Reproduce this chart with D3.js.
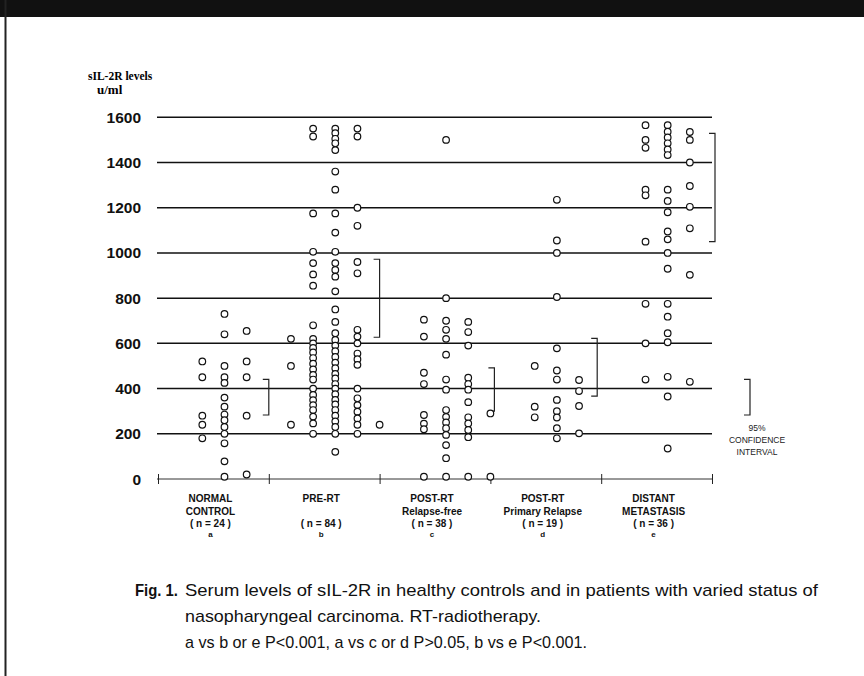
<!DOCTYPE html>
<html>
<head>
<meta charset="utf-8">
<script src="https://cdn.jsdelivr.net/npm/d3@7"></script>
<style>
body { margin: 0; background: #fff; }
svg { display: block; }
</style>
</head>
<body>
<svg id="chart"></svg>
<script>
// group labels
var groupKeys = ["a", "b", "c", "d", "e"];
var groupLine1 = ["NORMAL", "PRE-RT", "POST-RT", "POST-RT", "DISTANT"];
var groupLine2 = ["CONTROL", "", "Relapse-free", "Primary Relapse", "METASTASIS"];
var groupN = [24, 84, 38, 19, 36];
var yTicks = [0, 200, 400, 600, 800, 1000, 1200, 1400, 1600];

// sIL-2R values (u/ml), one list per dot column (column 1..5 inside a group)
var normalCols = [
    [],
    [520, 450, 280, 240, 180],
    [730, 640, 500, 450, 425, 360, 320, 285, 260, 230, 200, 158, 78, 10],
    [655, 520, 450, 280, 20],
    []
];
var preRtCols = [
    [620, 500, 240],
    [1550, 1515, 1175, 1005, 955, 905, 855, 680, 620, 600, 580, 560, 535, 510, 485, 460, 440, 400, 372, 349, 327, 305, 276, 246, 200],
    [1550, 1530, 1505, 1485, 1455, 1360, 1280, 1175, 1090, 1005, 955, 925, 895, 830, 750, 695, 645, 615, 590, 565, 540, 515, 490, 465, 445, 420, 400, 375, 350, 330, 305, 280, 255, 230, 200, 120],
    [1550, 1515, 1200, 1120, 960, 910, 660, 630, 600, 555, 530, 505, 400, 357, 327, 298, 268, 240, 200],
    [240]
];
var relapseFreeCols = [
    [],
    [705, 630, 470, 420, 283, 245, 220, 10],
    [1500, 800, 700, 660, 620, 550, 440, 395, 305, 275, 250, 225, 195, 150, 92, 10],
    [695, 650, 590, 448, 420, 395, 340, 273, 246, 217, 185, 10],
    [290, 10]
];
var primaryRelapseCols = [
    [],
    [500, 320, 273],
    [1235, 1055, 1000, 805, 578, 480, 440, 350, 300, 272, 225, 180],
    [438, 389, 323, 202],
    []
];
var metastasisCols = [
    [],
    [1565, 1500, 1465, 1280, 1255, 1050, 775, 600, 440],
    [1565, 1536, 1511, 1485, 1458, 1433, 1280, 1230, 1180, 1095, 1060, 1000, 930, 775, 718, 645, 605, 452, 365, 135],
    [1535, 1500, 1400, 1296, 1204, 1109, 903, 430],
    []
];

// 95% confidence intervals per group
var ciLow = [283, 627, 300, 367, 1050];
var ciHigh = [441, 972, 492, 622, 1529];
var legendCi = [283, 441];

var captionLines = [
    "Serum levels of sIL-2R in healthy controls and in patients with varied status of",
    "nasopharyngeal carcinoma. RT-radiotherapy.",
    "a vs b or e P<0.001, a vs c or d P>0.05, b vs e P<0.001."
];

var allCols = [normalCols, preRtCols, relapseFreeCols, primaryRelapseCols, metastasisCols];

var screen = { width: 864, height: 676 };

var svg = d3.select("#chart")
    .attr("width", screen.width)
    .attr("height", screen.height);

// page frame: black strip on top, rule on the left
svg.append("rect")
    .attr("x", 0).attr("y", 0)
    .attr("width", screen.width).attr("height", 17)
    .attr("fill", "#111");
svg.append("line")
    .attr("x1", 5.5).attr("x2", 5.5)
    .attr("y1", 0).attr("y2", screen.height)
    .attr("stroke", "#222").attr("stroke-width", 2);

var xGroup = d3.scaleBand()
    .domain(groupKeys)
    .range([158, 712]);

var slot = d3.scaleLinear()
    .domain([0, 5])
    .range([0, xGroup.bandwidth()]);

var yScale = d3.scaleLinear()
    .domain([0, 1600])
    .range([479, 117.3]);

var sans = "'Liberation Sans', Arial, Helvetica, sans-serif";

// gridlines
svg.append("g")
    .selectAll("line")
    .data(yTicks.filter(function (t) { return t > 0; }))
    .enter()
    .append("line")
    .attr("x1", 157).attr("x2", 712)
    .attr("y1", function (t) { return yScale(t); })
    .attr("y2", function (t) { return yScale(t); })
    .attr("stroke", "#111")
    .attr("stroke-width", 1.5);

// y labels
svg.append("g")
    .selectAll("text")
    .data(yTicks)
    .enter()
    .append("text")
    .text(function (t) { return t; })
    .attr("x", 141)
    .attr("y", function (t) { return yScale(t) + 5.5; })
    .attr("text-anchor", "end")
    .attr("font-family", sans)
    .attr("font-weight", "bold")
    .attr("font-size", 15.5)
    .attr("fill", "#111");

// baseline with group boundary ticks
var xAxis = d3.axisBottom(d3.scaleLinear().domain([0, 5]).range([158, 712]))
    .tickValues([0, 1, 2, 3, 4, 5])
    .tickSize(5)
    .tickFormat("");
var axisG = svg.append("g")
    .attr("transform", "translate(0," + yScale(0) + ")")
    .call(xAxis);
axisG.select(".domain").attr("stroke", "#333").attr("stroke-width", 1).attr("d", "M157,0H712");
axisG.selectAll(".tick line").attr("y1", -5).attr("y2", 5).attr("stroke", "#222");

// axis title
svg.append("text")
    .text("sIL-2R levels")
    .attr("x", 88).attr("y", 80)
    .attr("font-family", "'Liberation Serif', 'Times New Roman', serif")
    .attr("font-weight", "bold")
    .attr("font-size", 11.5);
svg.append("text")
    .text("u/ml")
    .attr("x", 97).attr("y", 94)
    .attr("font-family", "'Liberation Serif', 'Times New Roman', serif")
    .attr("font-weight", "bold")
    .attr("font-size", 13);

// confidence brackets
var bracketNudge = [0, 0, 4, -4, 3];
var bracket = function (x, lo, hi) {
    var y1 = yScale(hi), y2 = yScale(lo);
    return "M" + (x - 6) + "," + y1 + "H" + x + "V" + y2 + "H" + (x - 6);
};
svg.append("g")
    .selectAll("path")
    .data(groupKeys)
    .enter()
    .append("path")
    .attr("d", function (k, i) {
        return bracket(xGroup(k) + slot(5) + bracketNudge[i], ciLow[i], ciHigh[i]);
    })
    .attr("fill", "none")
    .attr("stroke", "#222")
    .attr("stroke-width", 1.2);

// legend bracket
svg.append("path")
    .attr("d", bracket(750, legendCi[0], legendCi[1]))
    .attr("fill", "none")
    .attr("stroke", "#222")
    .attr("stroke-width", 1.2);
var legendText = svg.append("text")
    .attr("font-family", sans)
    .attr("font-size", 8.5)
    .attr("text-anchor", "middle")
    .attr("fill", "#222");
legendText.append("tspan").attr("x", 757).attr("y", 431).text("95%");
legendText.append("tspan").attr("x", 757).attr("y", 443).text("CONFIDENCE");
legendText.append("tspan").attr("x", 757).attr("y", 455).text("INTERVAL");

// dots
var points = [];
allCols.forEach(function (cols, gi) {
    cols.forEach(function (vals, ci) {
        vals.forEach(function (v) {
            points.push({ group: groupKeys[gi], col: ci + 1, value: v });
        });
    });
});

svg.append("g")
    .selectAll("circle")
    .data(points)
    .enter()
    .append("circle")
    .attr("cx", function (p) { return xGroup(p.group) + slot(p.col); })
    .attr("cy", function (p) { return yScale(p.value); })
    .attr("r", 3.3)
    .attr("fill", "#fff")
    .attr("stroke", "#111")
    .attr("stroke-width", 1.2);

// group labels
var labelX = function (k) { return xGroup(k) + xGroup.bandwidth() / 2 - 3; };
var labels = svg.append("g")
    .selectAll("text")
    .data(groupKeys)
    .enter()
    .append("text")
    .attr("font-family", sans)
    .attr("font-weight", "bold")
    .attr("font-size", 10)
    .attr("text-anchor", "middle")
    .attr("fill", "#111");
labels.append("tspan")
    .attr("x", labelX)
    .attr("y", 502)
    .text(function (k, i) { return groupLine1[i]; });
labels.append("tspan")
    .attr("x", labelX)
    .attr("y", 515)
    .text(function (k, i) { return groupLine2[i]; });
labels.append("tspan")
    .attr("x", labelX)
    .attr("y", 527)
    .attr("xml:space", "preserve")
    .text(function (k, i) { return "( n = " + groupN[i] + " )"; });
labels.append("tspan")
    .attr("x", labelX)
    .attr("y", 537)
    .attr("font-size", 8)
    .text(function (k) { return k; });

// caption
var capFont = "'Liberation Sans Narrow', 'Arial Narrow', 'Liberation Sans', sans-serif";
svg.append("text")
    .text("Fig. 1.")
    .attr("x", 135).attr("y", 596)
    .attr("textLength", 43)
    .attr("lengthAdjust", "spacingAndGlyphs")
    .attr("font-family", capFont)
    .attr("font-weight", "bold")
    .attr("font-size", 17)
    .attr("fill", "#111");
var capWidths = [633, 356, 402];
svg.append("g")
    .selectAll("text")
    .data(captionLines)
    .enter()
    .append("text")
    .text(function (d) { return d; })
    .attr("x", 185)
    .attr("y", function (d, i) { return 596 + i * 26; })
    .attr("textLength", function (d, i) { return capWidths[i]; })
    .attr("lengthAdjust", "spacingAndGlyphs")
    .attr("font-family", capFont)
    .attr("font-size", 17)
    .attr("fill", "#111");
</script>
</body>
</html>
